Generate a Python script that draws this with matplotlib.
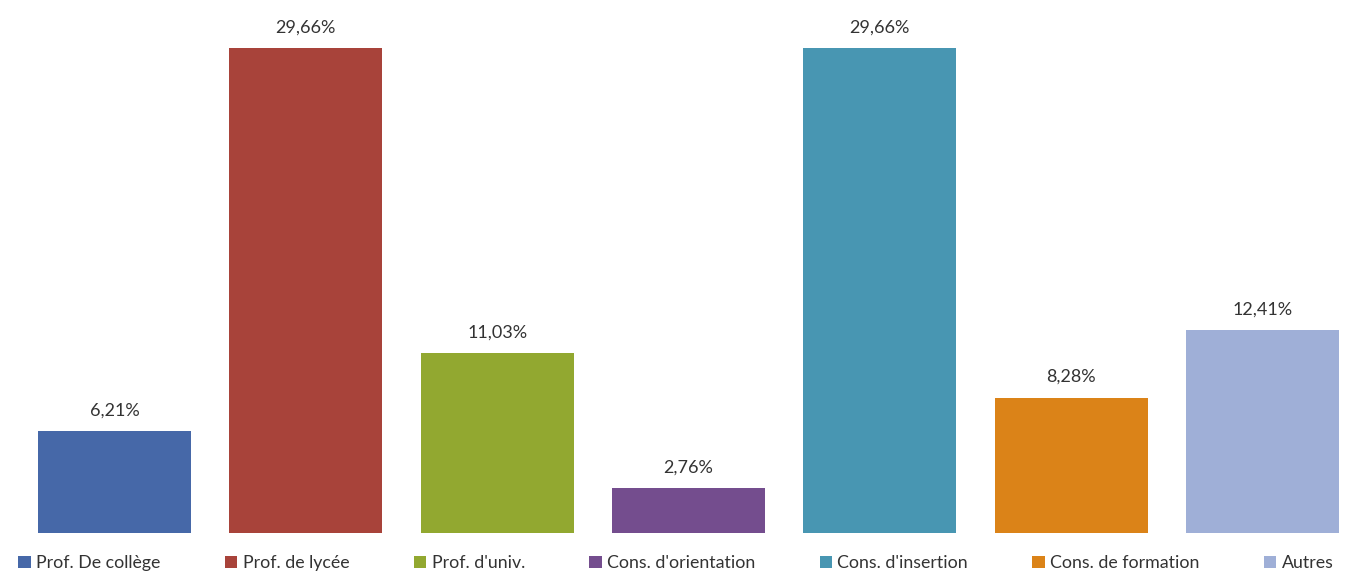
import matplotlib
matplotlib.use("Agg")
import matplotlib.pyplot as plt

# data
categories = ["Prof. De collège", "Prof. de lycée", "Prof. d'univ.",
              "Cons. d'orientation", "Cons. d'insertion",
              "Cons. de formation", "Autres"]
values = [6.21, 29.66, 11.03, 2.76, 29.66, 8.28, 12.41]
colors = ["#4668A8", "#A8433A", "#92A830", "#744D8E",
          "#4896B2", "#DB8318", "#9FAFD7"]

plt.rcParams['font.family'] = ['Lato', 'DejaVu Sans']

fig = plt.figure(figsize=(13.46, 5.74), dpi=100)
ax = fig.add_axes([0, 41 / 574, 1, 533 / 574])

x = list(range(len(values)))
bars = ax.bar(x, values, width=0.8, color=colors, label=categories)

for b, v in zip(bars, values):
    ax.annotate(f"{v:.2f}".replace('.', ',') + '%',
                (b.get_x() + b.get_width() / 2, v),
                xytext=(0, 9), textcoords='offset points',
                ha='center', va='bottom', fontsize=13, color='#333333')

ax.set_xlim(-0.598, 6.436)
ax.set_ylim(0, 32.6)
ax.axis('off')

fig.legend(handles=bars, labels=categories, loc='center',
           bbox_to_anchor=(676 / 1346, 11 / 574), ncol=7, frameon=False,
           fontsize=12.8, handlelength=0.7, handleheight=0.7,
           handletextpad=0.3, columnspacing=3.62, labelcolor='#333333')

fig.savefig("out.png", dpi=100)
